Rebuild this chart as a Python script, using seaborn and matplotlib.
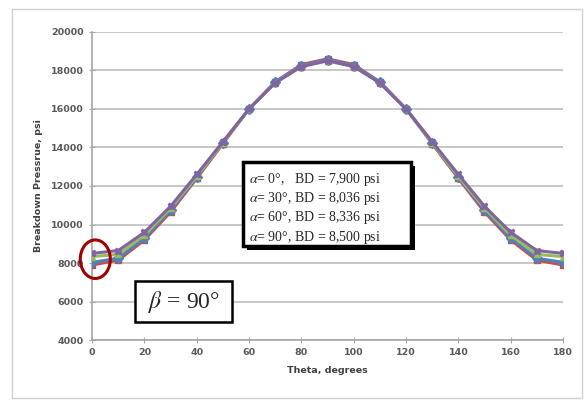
import matplotlib
matplotlib.use("Agg")
import matplotlib.pyplot as plt
import seaborn as sns
import pandas as pd
from matplotlib.patches import Ellipse, Rectangle

theta = [0, 10, 20, 30, 40, 50, 60, 70, 80, 90, 100, 110, 120, 130, 140, 150, 160, 170, 180]
bd_a0 = [7900, 8150, 9200, 10650, 12400, 14200, 16000, 17400, 18300, 18600, 18300, 17400, 16000, 14200, 12400, 10650, 9200, 8150, 7900]
bd_a30 = [8036, 8250, 9300, 10750, 12450, 14250, 16000, 17400, 18250, 18550, 18250, 17400, 16000, 14250, 12450, 10750, 9300, 8250, 8036]
bd_a60 = [8336, 8450, 9450, 10850, 12500, 14250, 16000, 17350, 18200, 18500, 18200, 17350, 16000, 14250, 12500, 10850, 9450, 8450, 8336]
bd_a90 = [8500, 8650, 9600, 10950, 12600, 14300, 16000, 17350, 18200, 18500, 18200, 17350, 16000, 14300, 12600, 10950, 9600, 8650, 8500]
series_names = ["a0", "a30", "a60", "a90"]
legend_lines = [r"$\alpha$= 0°,   BD = 7,900 psi",
                r"$\alpha$= 30°, BD = 8,036 psi",
                r"$\alpha$= 60°, BD = 8,336 psi",
                r"$\alpha$= 90°, BD = 8,500 psi"]

rows = []
for name, vals in zip(series_names, [bd_a0, bd_a30, bd_a60, bd_a90]):
    for t, v in zip(theta, vals):
        rows.append({"theta": t, "bd": v, "series": name})
df = pd.DataFrame(rows)

sns.set_style("white")
plt.rcParams["mathtext.fontset"] = "stix"
fig = plt.figure(figsize=(5.87, 4.03), dpi=100)
ax = fig.add_axes([0.157, 0.156, 0.802, 0.765])

palette = {"a0": "#C0504D", "a30": "#4F81BD", "a60": "#9BBB59", "a90": "#8064A2"}
markers = {"a0": "s", "a30": "D", "a60": "^", "a90": "X"}
sns.lineplot(data=df, x="theta", y="bd", hue="series", style="series",
             palette=palette, markers=markers, dashes=False, linewidth=2.2,
             markersize=5, legend=False, ax=ax, zorder=3)
for ln in ax.lines:
    ln.set_markeredgecolor(ln.get_color())
    ln.set_markeredgewidth(1.0)

ax.set_xlim(0, 180)
ax.set_ylim(4000, 20000)
ax.set_xticks(range(0, 181, 20))
ax.set_yticks(range(4000, 20001, 2000))
ax.yaxis.grid(True, color="#BDBDBD", linewidth=1.2)
ax.xaxis.grid(False)
for s in ["top", "right"]:
    ax.spines[s].set_visible(False)
for s in ["left", "bottom"]:
    ax.spines[s].set_color("#A6A6A6")
    ax.spines[s].set_linewidth(1.2)
ax.tick_params(axis="both", which="both", direction="inout", length=5, color="#A6A6A6",
               labelsize=6.8, labelcolor="#595959", left=True, bottom=True)
for lab in ax.get_xticklabels() + ax.get_yticklabels():
    lab.set_fontweight("bold")
ax.set_xlabel("Theta, degrees", fontsize=6.8, fontweight="bold", color="#404040", labelpad=6)
ax.set_ylabel("Breakdown Pressrue, psi", fontsize=6.8, fontweight="bold", color="#404040", labelpad=6)

# red ellipse highlighting theta=0
ell = Ellipse((1.2, 8200), width=11.5, height=2000, fill=False, edgecolor="#A00000",
              linewidth=2.2, zorder=5, clip_on=False)
ax.add_patch(ell)

# legend-like text box
fig.patches.append(Rectangle((247 / 587, 1 - 250 / 403), 168 / 587, 84 / 403,
                             transform=fig.transFigure, facecolor="black", edgecolor="none", zorder=4))
fig.patches.append(Rectangle((243 / 587, 1 - 246 / 403), 168 / 587, 84 / 403,
                             transform=fig.transFigure, facecolor="white", edgecolor="black",
                             linewidth=2.5, zorder=5))
for i, line in enumerate(legend_lines):
    fig.text(249 / 587, 1 - (179 + i * 19.5) / 403, line, fontsize=10,
             family="Liberation Serif", va="center", ha="left", zorder=6)

# beta box
fig.patches.append(Rectangle((135 / 587, 1 - 322 / 403), 97 / 587, 41 / 403,
                             transform=fig.transFigure, facecolor="white", edgecolor="black",
                             linewidth=1.8, zorder=5))
fig.text(183.5 / 587, 1 - 302 / 403, r"$\beta$ = 90°", fontsize=17,
         family="Liberation Serif", va="center", ha="center", zorder=6)

# outer chart border
fig.patches.append(Rectangle((12 / 587, 1 - 398 / 403), 570 / 587, 389 / 403,
                             transform=fig.transFigure, facecolor="none", edgecolor="#D0D0D0",
                             linewidth=1.0, zorder=1))

fig.savefig("out.png", dpi=100)
